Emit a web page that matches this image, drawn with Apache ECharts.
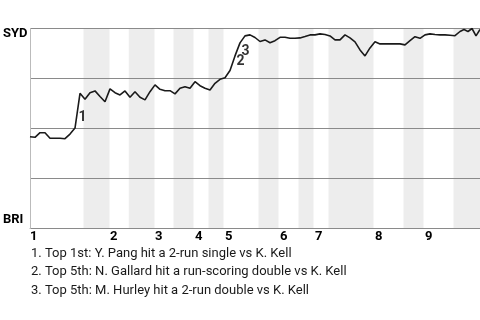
<!DOCTYPE html>
<html>
<head>
<meta charset="utf-8">
<script src="https://cdn.jsdelivr.net/npm/echarts@6/dist/echarts.min.js"></script>
<style>
html,body{margin:0;padding:0;background:#fff;}
#c{width:480px;height:320px;}
</style>
</head>
<body>
<div id="c"></div>
<script>
// Play index (x) and SYD win probability in % (y)
const plays = [0,1,2,3,4,5,6,7,8,9,10,11,12,13,14,15,16,17,18,19,20,21,22,23,24,25,26,27,28,29,30,31,32,33,34,35,36,37,38,39,40,41,42,43,44,45,46,47,48,49,50,51,52,53,54,55,56,57,58,59,60,61,62,63,64,65,66,67,68,69,70,71,72,73,74,75,76,77,78,79,80,81,82,83,84,85,86,86.8,87.6,88.4,89.2,90];
const sydWinPct = [45.9,45.6,47.9,47.9,45.1,45.1,45.1,44.9,47.2,50.2,67.6,64.6,67.9,68.8,66.0,63.4,69.8,67.9,66.8,68.8,65.6,68.4,65.6,64.3,68.4,71.8,69.6,68.9,68.9,67.3,70.1,70.9,70.1,73.4,71.4,70.1,69.3,72.6,74.6,75.4,79.0,86.3,92.8,96.3,96.8,95.5,93.5,94.3,92.9,93.9,95.6,95.6,95.1,95.1,95.3,96.0,96.8,96.8,97.3,97.0,96.3,94.3,94.3,96.8,95.3,93.3,89.3,86.3,90.3,93.4,92.3,92.3,92.3,92.3,92.3,91.8,93.9,95.9,95.1,96.8,97.3,97.0,96.8,96.8,96.6,96.4,98.5,99.5,98.5,100,96.3,99.5];

// Innings: first play of each top half, and bottom-half ranges (shaded)
const innings = ['1','2','3','4','5','6','7','8','9'];
const topStarts = [0,16,25,33,39,50,57,69,79];
const bottomStarts = [10.7,19.75,28.7,35.7,45.7,53.7,59.7,74.7,84.7];
const bottomEnds = [15.9,24.9,32.7,38.7,49.7,56.7,68.7,78.7,90];
const totalPlays = 90;

// Y axis end labels
const teamTop = 'SYD';
const teamBottom = 'BRI';

// Annotated plays: label, anchor play, anchor win %
const annLabels = ['1','2','3'];
const annPlays = [10.5,42.1,43.1];
const annPct = [55.5,83.3,88.3];
const annTexts = [
  '1. Top 1st: Y. Pang hit a 2-run single vs K. Kell',
  '2. Top 5th: N. Gallard hit a run-scoring double vs K. Kell',
  '3. Top 5th: M. Hurley hit a 2-run double vs K. Kell'
];

const lineData = plays.map((p,i)=>[p, sydWinPct[i]]);
const bands = bottomStarts.map((s,i)=>[{xAxis:s},{xAxis:bottomEnds[i]}]);
const annData = annLabels.map((l,i)=>({value:[annPlays[i], annPct[i]], name:l}));

const chart = echarts.init(document.getElementById('c'), null, {renderer:'canvas'});
chart.setOption({
  animation:false,
  backgroundColor:'#ffffff',
  title:{
    text: annTexts.join('\n'),
    left: 31, top: 244, padding: 0,
    textStyle:{fontFamily:'Roboto', fontSize:13, fontWeight:'normal', color:'#1a1a1a', lineHeight:18.5}
  },
  grid:{left:29, right:0, top:28.5, bottom:91.5},
  xAxis:{
    type:'value', min:0, max:totalPlays,
    axisLine:{show:true, lineStyle:{color:'#aaaaaa', width:1}},
    axisTick:{show:false},
    splitLine:{show:false},
    axisLabel:{
      customValues: topStarts,
      formatter: v => innings[topStarts.indexOf(v)],
      align:'left', margin:2, padding:[0,0,0,0],
      fontFamily:'Roboto', fontWeight:'bold', fontSize:13, color:'#000'
    }
  },
  yAxis:{
    type:'value', min:0, max:100, interval:25, z:5,
    axisLine:{show:true, lineStyle:{color:'#bbbbbb', width:1}},
    axisTick:{show:false},
    splitLine:{show:true, lineStyle:{color:'#8a8a8a', width:1}},
    axisLabel:{
      customValues:[0,100],
      formatter: v => v===100 ? '{t|'+teamTop+'}' : '{b|'+teamBottom+'}',
      align:'left', margin:27,
      fontFamily:'Roboto', fontWeight:'bold', fontSize:13, color:'#000',
      rich:{
        t:{fontFamily:'Roboto', fontWeight:'bold', fontSize:13, color:'#000', padding:[11,0,0,0]},
        b:{fontFamily:'Roboto', fontWeight:'bold', fontSize:13, color:'#000', padding:[0,0,17,0]}
      }
    }
  },
  series:[
    {
      type:'line', z:1, data:[], silent:true,
      markArea:{silent:true, itemStyle:{color:'#ededed'}, data:bands}
    },
    {
      type:'line', z:10, data:lineData, showSymbol:false, symbol:'none',
      lineStyle:{color:'#1a1a1a', width:1.6}
    },
    {
      type:'scatter', z:11, data:annData, symbolSize:0,
      label:{show:true, position:'inside', formatter: p => p.name,
        fontFamily:'Roboto', fontWeight:'bold', fontSize:14, color:'#000'}
    }
  ]
});
</script>
</body>
</html>
